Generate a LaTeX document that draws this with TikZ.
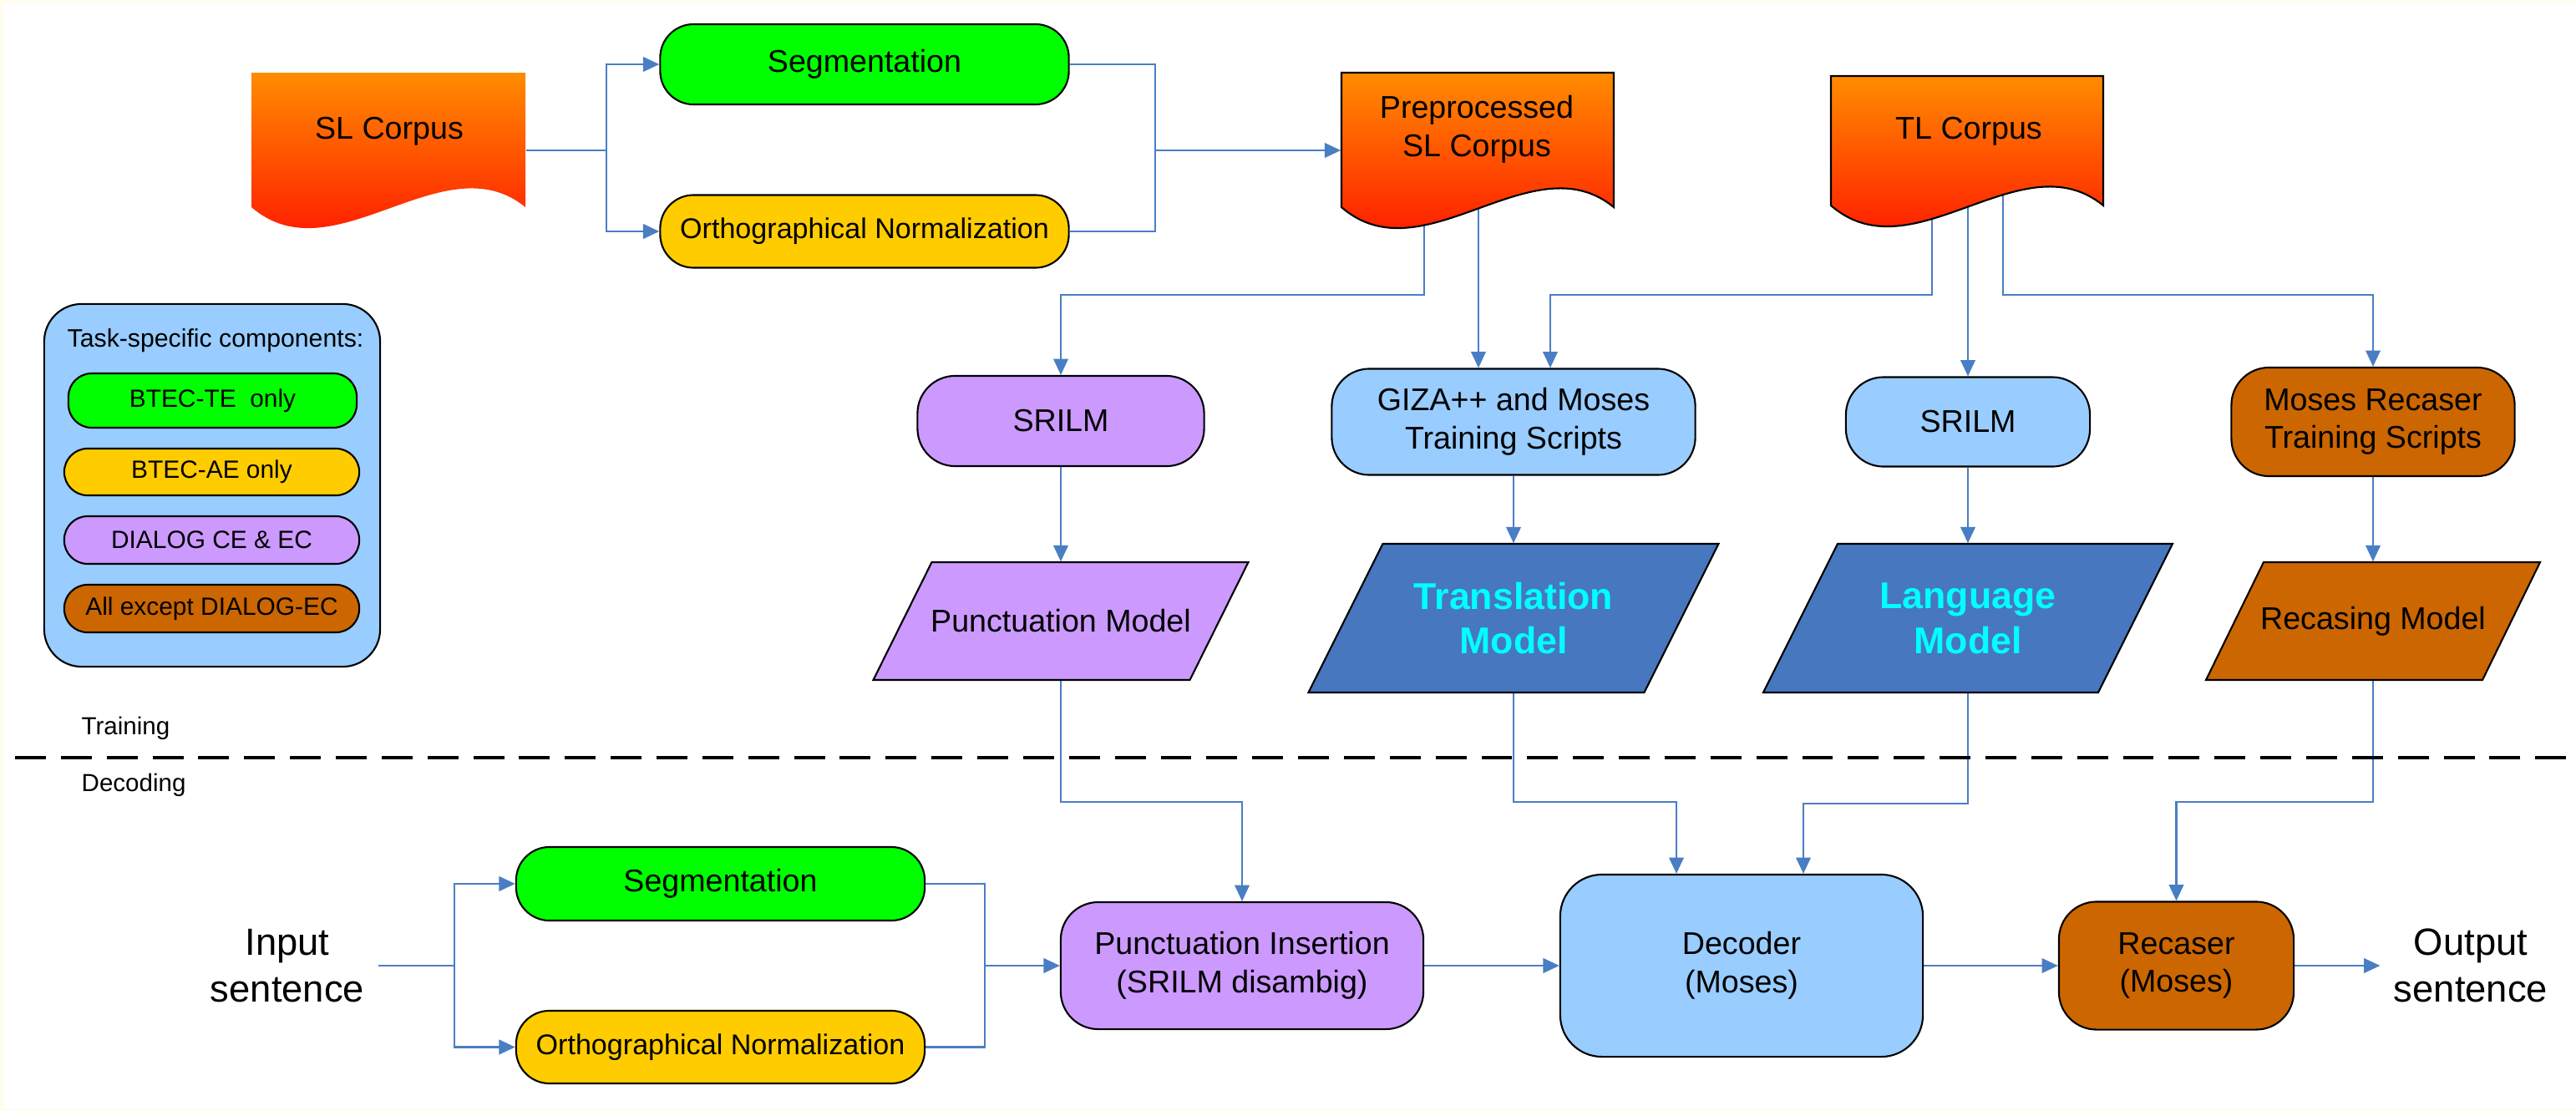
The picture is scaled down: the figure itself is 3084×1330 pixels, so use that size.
\documentclass[tikz,border=0pt]{standalone}
\usepackage{fontspec}
\setmainfont{Liberation Sans}
\usetikzlibrary{arrows.meta,calc}
\pgfdeclarelayer{back}
\pgfdeclarelayer{bg}
\pgfsetlayers{back,bg,main}
\definecolor{cream}{HTML}{FFFDEE}
\definecolor{cgreen}{HTML}{00FF00}
\definecolor{cyell}{HTML}{FFCC00}
\definecolor{cpurp}{HTML}{CC99FF}
\definecolor{clblue}{HTML}{99CCFF}
\definecolor{cbrown}{HTML}{CC6600}
\definecolor{cdblue}{HTML}{4777BF}
\definecolor{cline}{HTML}{4A7EC4}
\definecolor{docA}{HTML}{FF8C00}
\definecolor{docB}{HTML}{FF0000}
\definecolor{ccyan}{HTML}{00FFFF}
\newcommand{\mydoc}[4]{(#1,#2) -- (#3,#2) -- (#3,#4) .. controls ({#1+0.7*(#3-#1)},{#4-80}) and ({#1+0.3*(#3-#1)},{#4+85}) .. (#1,#4) -- cycle}
\newcommand{\mypara}[6]{\filldraw[fill=#6,draw=black,line width=0.6pt] ({#1-#3+#5/2},{#2-#4}) -- ({#1+#3+#5/2},{#2-#4}) -- ({#1+#3-#5/2},{#2+#4}) -- ({#1-#3-#5/2},{#2+#4}) -- cycle;}
\tikzset{
 box/.style={draw=black, line width=0.6pt, rounded corners=0.4cm, inner sep=0pt, align=center, font=\fontsize{10.7pt}{13pt}\selectfont},
 pill/.style={draw=black, line width=0.6pt, rounded corners=0.28cm, inner sep=0pt, font=\fontsize{8.5pt}{10pt}\selectfont},
 ghost/.style={inner sep=0pt, align=center, font=\fontsize{10.7pt}{13pt}\selectfont},
 orthfont/.style={font=\fontsize{9.7pt}{12pt}\selectfont},
 wire/.style={draw=cline, line width=0.6pt},
 conn/.style={wire, -{Triangle[length=5.5pt,width=5pt]}},
 bigtxt/.style={font=\fontsize{12.9pt}{16pt}\selectfont, align=center, inner sep=4.5pt},
 smalltxt/.style={font=\fontsize{8.4pt}{10pt}\selectfont, inner sep=0pt},
 cyantxt/.style={font=\fontsize{12.7pt}{15.3pt}\selectfont\bfseries, text=ccyan},
}
\begin{document}
\begin{tikzpicture}[x=0.01cm,y=-0.01cm]
\useasboundingbox (0,0) rectangle (3084,1330);
\begin{pgfonlayer}{back}
\fill[cream] (0,0) rectangle (3084,1330);
\fill[white] (5,4) rectangle (3084,1327);
\end{pgfonlayer}

% document shapes
\shade[top color=docA,bottom color=docB] \mydoc{301}{87}{629}{248};
\node[ghost, minimum width=3.28cm, minimum height=1.85cm] (sl) at (465,180) {};
\node[ghost] (sltext) at (466,157) {SL Corpus};

\shade[top color=docA,bottom color=docB] \mydoc{1606}{87}{1932}{248};
\draw[line width=0.6pt] \mydoc{1606}{87}{1932}{248};
\node[ghost, minimum width=3.26cm, minimum height=1.85cm] (pre) at (1769,180) {};
\node[ghost] (pretext) at (1768,155) {Preprocessed\\SL Corpus};

\shade[top color=docA,bottom color=docB] \mydoc{2192}{91}{2518}{246};
\draw[line width=0.6pt] \mydoc{2192}{91}{2518}{246};
\node[ghost, minimum width=3.26cm, minimum height=1.76cm] (tl) at (2355,179) {};
\node[ghost] (tltext) at (2357,157) {TL Corpus};

% top pipeline
\node[box, fill=cgreen, minimum width=4.89cm, minimum height=0.96cm] (seg1) at (1035,77) {Segmentation};
\node[box, orthfont, fill=cyell, minimum width=4.89cm, minimum height=0.87cm] (orth1) at (1035,277) {Orthographical Normalization};

% middle row
\node[box, fill=cpurp, minimum width=3.43cm, minimum height=1.08cm, rounded corners=0.45cm] (srilm1) at (1270,504) {SRILM};
\node[box, fill=clblue, minimum width=4.35cm, minimum height=1.27cm, rounded corners=0.45cm] (giza) at (1812,505) {GIZA++ and Moses\\Training Scripts};
\node[box, fill=clblue, minimum width=2.92cm, minimum height=1.07cm, rounded corners=0.45cm] (srilm2) at (2356,505) {SRILM};
\node[box, fill=cbrown, minimum width=3.39cm, minimum height=1.30cm, rounded corners=0.45cm] (mrs) at (2841,505) {Moses Recaser\\Training Scripts};

% models
\mypara{1270}{743.5}{189.5}{70.5}{70}{cpurp}
\node[ghost, minimum height=1.41cm] (pm) at (1270,743.5) {Punctuation Model};
\mypara{1812}{740}{201}{89}{89}{cdblue}
\node[ghost, cyantxt, minimum height=1.78cm] (tm) at (1812,740) {Translation\\Model};
\mypara{2356}{740}{200.5}{89}{89}{cdblue}
\node[ghost, cyantxt, minimum height=1.78cm] (lm) at (2356,740) {Language\\Model};
\mypara{2841}{743.5}{165.5}{70.5}{69}{cbrown}
\node[ghost, minimum height=1.41cm] (rm) at (2841,743.5) {Recasing Model};

% divider
\draw[black, line width=1.13pt, dash pattern=on 10.5pt off 5.1pt] (18,907) -- (3078,907);
\node[smalltxt, anchor=west] (train) at (97,872) {Training};
\node[smalltxt, anchor=west] (decod) at (97,940) {Decoding};

% bottom row
\node[box, fill=cgreen, minimum width=4.89cm, minimum height=0.88cm] (seg2) at (862.5,1058) {Segmentation};
\node[box, orthfont, fill=cyell, minimum width=4.89cm, minimum height=0.87cm] (orth2) at (862.5,1253.5) {Orthographical Normalization};
\node[box, fill=cpurp, minimum width=4.34cm, minimum height=1.52cm, rounded corners=0.45cm] (pi) at (1487,1156) {Punctuation Insertion\\(SRILM disambig)};
\node[box, fill=clblue, minimum width=4.34cm, minimum height=2.18cm, rounded corners=0.5cm] (dec) at (2085,1156) {Decoder\\(Moses)};
\node[box, fill=cbrown, minimum width=2.81cm, minimum height=1.53cm, rounded corners=0.45cm] (rec) at (2605.5,1156) {Recaser\\(Moses)};
\node[bigtxt] (in) at (344,1156) {Input\\sentence};
\node[bigtxt] (out) at (2958,1156) {Output\\sentence};

% legend
\node[draw=black, line width=0.6pt, fill=clblue, rounded corners=0.45cm, minimum width=4.02cm, minimum height=4.34cm, inner sep=0pt] (legend) at (254,581) {};
\node[font=\fontsize{8.6pt}{10pt}\selectfont, inner sep=0pt] (legtitle) at (258,408) {Task-specific components:};
\node[pill, fill=cgreen, minimum width=3.45cm, minimum height=0.65cm] (lg1) at (254.5,479.5) {BTEC-TE\ \ only};
\node[pill, fill=cyell, minimum width=3.53cm, minimum height=0.56cm] (lg2) at (253.5,565) {BTEC-AE only};
\node[pill, fill=cpurp, minimum width=3.53cm, minimum height=0.57cm] (lg3) at (253.5,646.5) {DIALOG CE \& EC};
\node[pill, fill=cbrown, minimum width=3.53cm, minimum height=0.57cm] (lg4) at (253.5,728.5) {All except DIALOG-EC};

% connectors
\begin{pgfonlayer}{bg}
\draw[conn] (sl.east) -- ++(96,0) |- (seg1.west);
\draw[conn] (sl.east) -- ++(96,0) |- (orth1.west);
\coordinate (j1) at (1383,180);
\draw[wire] (seg1.east) -| (j1) |- (orth1.east);
\draw[conn] (j1) -- (pre.west);
\coordinate (preA) at (1705,200);
\coordinate (preB) at (1770,200);
\draw[conn] (preA) -- (1705,353) -| (srilm1.north);
\draw[conn] (preB) -- (preB |- giza.north);
\coordinate (tlA) at (2313,200);
\coordinate (tlB) at (2356,200);
\coordinate (tlC) at (2398,200);
\draw[conn] (tlA) -- (2313,353) -| ($(giza.north)+(44,0)$);
\draw[conn] (tlB) -- (srilm2.north);
\draw[conn] (tlC) -- (2398,353) -| (mrs.north);
\draw[conn] (srilm1.south) -- (pm.north);
\draw[conn] (giza.south) -- (tm.north);
\draw[conn] (srilm2.south) -- (lm.north);
\draw[conn] (mrs.south) -- (mrs.south |- rm.north);
\draw[conn] (pm.south) -- (1270,960) -| (pi.north);
\draw[conn] (tm.south) -- (1812,960) -| ($(dec.north)+(-78,0)$);
\draw[conn] (lm.south) -- (2356,962) -| ($(dec.north)+(74,0)$);
\draw[conn] (rm.south) -- (2841,960) -| (rec.north);
\draw[conn] (in.east) -- ++(91,0) |- (seg2.west);
\draw[conn] (in.east) -- ++(91,0) |- (orth2.west);
\coordinate (j2) at (1179,1156);
\draw[wire] (seg2.east) -| (j2) |- (orth2.east);
\draw[conn] (j2) -- (pi.west);
\draw[conn] (pi.east) -- (dec.west);
\draw[conn] (dec.east) -- (rec.west);
\draw[conn] (rec.east) -- (rec.east -| out.west);
\end{pgfonlayer}
\end{tikzpicture}
\end{document}
